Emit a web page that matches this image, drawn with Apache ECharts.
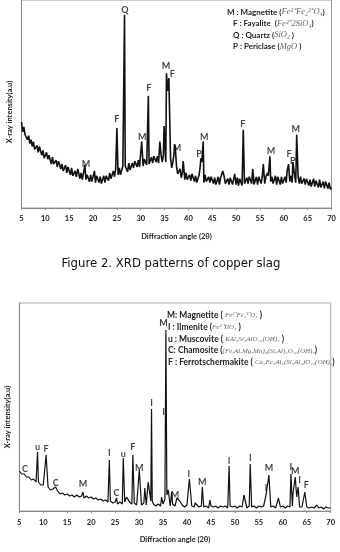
<!DOCTYPE html>
<html>
<head>
<meta charset="utf-8">
<script src="https://cdn.jsdelivr.net/npm/echarts@6/dist/echarts.min.js"></script>
<style>
html, body { margin: 0; padding: 0; background: #fff; }
#xrd { width: 340px; height: 552px; }
</style>
</head>
<body>
<div id="xrd"></div>
<script>
// copper slag trace, read every 0.25 deg from 5 to 70 (a.u.)
const slagStart = 5;
const slagStep = 0.25;
const slagBase = [
  88, 78, 83, 75, 76, 70, 74, 66, 70, 63, 68, 60, 58, 64, 57, 63, 61, 54, 59, 51,
  51, 57, 50, 54, 53, 45, 52, 45, 43, 49, 42, 48, 48, 40, 45, 38, 38, 44, 36, 42,
  41, 34, 41, 33, 32, 38, 32, 38, 38, 30, 36, 29, 29, 36, 29, 34, 34, 27, 34, 27,
  26, 33, 26, 33, 33, 26, 32, 25, 26, 33, 26, 33, 34, 28, 36, 30, 30, 38, 32, 40,
  41, 34, 41, 34, 36, 43, 36, 43, 44, 37, 46, 39, 39, 46, 41, 48, 49, 42, 49, 42,
  44, 51, 43, 50, 51, 44, 52, 45, 45, 52, 46, 53, 54, 47, 53, 46, 48, 55, 47, 54,
  54, 47, 52, 46, 45, 51, 41, 47, 46, 38, 43, 35, 34, 40, 31, 37, 36, 29, 36, 29,
  27, 34, 28, 35, 34, 27, 33, 26, 27, 34, 26, 33, 33, 26, 34, 27, 25, 32, 26, 32,
  32, 25, 31, 24, 25, 32, 24, 31, 31, 24, 32, 25, 23, 30, 24, 31, 31, 24, 30, 23,
  24, 31, 23, 30, 30, 23, 31, 25, 24, 31, 25, 32, 32, 25, 31, 24, 25, 32, 24, 32,
  32, 25, 33, 26, 25, 32, 26, 33, 34, 27, 32, 25, 26, 33, 24, 32, 31, 24, 32, 25,
  24, 32, 26, 33, 34, 27, 33, 26, 27, 34, 26, 33, 32, 25, 32, 25, 23, 30, 24, 30,
  30, 23, 29, 22, 23, 30, 22, 28, 28, 21, 29, 21, 20, 27, 20, 27, 27, 20, 26, 19,
  21
];
const slagPeaks = [
  [16.8, 40], [18.3, 44], [20.3, 38], [25.0, 82], [26.6, 198], [30.2, 68],
  [31.6, 115], [34.0, 68], [34.9, 84], [35.4, 138], [35.65, 120], [35.9, 133],
  [37.2, 65], [38.9, 48], [42.5, 44], [42.6, 51], [42.8, 47], [43.1, 68],
  [47.2, 38], [49.7, 35], [51.5, 80], [53.5, 40], [55.7, 45], [56.6, 36],
  [57.1, 53], [60.7, 38], [61.0, 45], [61.9, 47], [62.7, 75]
];
const slagLabels = [
  [18.5, 45, 'M'], [25.0, 91, 'F'], [26.7, 203, 'Q'], [30.3, 73, 'M'],
  [31.7, 123, 'F'], [35.3, 145, 'M'], [36.6, 137, 'F'], [37.6, 61, 'M'],
  [42.2, 55, 'P'], [43.3, 73, 'M'], [51.4, 86, 'F'], [57.3, 58, 'M'],
  [61.1, 55, 'F'], [61.9, 48, 'P'], [62.5, 81, 'M']
];

// second sample, read every 0.5 deg from 5 to 70 (a.u.)
const oreStart = 5;
const oreStep = 0.5;
const oreBase = [
  40, 37, 37, 34, 34, 31, 32, 29, 29, 26, 26, 23, 24, 21, 22, 19, 20, 17, 18, 16,
  17, 15, 16, 14, 16, 14, 15, 13, 15, 13, 14, 12, 13, 11, 12, 10, 11, 9, 10, 8,
  9, 7, 9, 7, 9, 7, 9, 7, 8, 6, 8, 6, 8, 6, 8, 6, 7, 5, 7, 5,
  7, 5, 7, 5, 7, 5, 6, 5, 6, 4, 6, 4, 5, 4, 6, 4, 5, 4, 5, 3,
  5, 4, 5, 3, 5, 4, 5, 3, 5, 4, 5, 3, 5, 4, 5, 3, 5, 4, 5, 3,
  5, 4, 5, 3, 5, 4, 5, 3, 5, 4, 5, 3, 5, 4, 5, 3, 5, 4, 4, 3,
  4, 3, 4, 3, 4, 3, 4, 2, 4, 3, 3
];
const orePeaks = [
  [6.3, 39], [8.8, 59], [10.6, 56], [12.6, 24], [18.3, 19], [21.2, 14],
  [23.8, 51], [25.3, 13], [26.7, 53], [27.4, 14], [28.7, 56], [30.05, 41],
  [31.2, 23], [31.9, 29], [32.45, 10], [32.6, 102], [32.75, 10], [34.7, 14],
  [35.4, 12], [35.6, 181], [35.8, 16], [36.1, 21], [36.8, 19], [37.9, 13],
  [38.5, 10], [40.5, 32], [41.7, 8], [43.2, 24], [44.8, 11], [48.8, 45],
  [51.9, 16], [53.2, 47], [56.5, 16], [57.1, 36], [59.1, 13], [61.7, 37],
  [62.15, 18], [62.6, 34], [62.9, 14], [63.2, 24], [64.6, 19], [67.1, 6]
];
const oreLabels = [
  [6.2, 42, 'C'], [8.8, 64, 'u'], [10.6, 62, 'F'], [12.6, 28, 'C'],
  [18.3, 27, 'M'], [23.8, 58, 'I'], [25.3, 18, 'C'], [26.7, 57, 'u'],
  [28.7, 64, 'F'], [30.05, 43, 'M'], [32.6, 108, 'I'], [35.1, 99, 'I'],
  [35.1, 188, 'M'], [37.5, 16, 'M'], [40.4, 37, 'I'], [43.2, 29, 'M'],
  [48.8, 50, 'I'], [53.2, 53, 'I'], [56.5, 23, 'I'], [57.1, 43, 'M'],
  [61.7, 44, 'I'], [62.6, 40, 'M'], [63.5, 31, 'I'], [64.9, 26, 'F']
];

const slagLegend = [
  ['M : Magnetite (', 'Fe²⁺Fe₂³⁺O₄', ')'],
  ['F : Fayalite  (', 'Fe²⁺2SiO₄', ')'],
  ['Q : Quartz (', 'SiO₂', ' )'],
  ['P : Periclase (', 'MgO', ' )']
];
const oreLegend = [
  ['M: Magnetite ( ', 'Fe²⁺Fe₂³⁺O₄', ' )'],
  ['I : Ilmenite (', 'Fe²⁺TiO₃', ' )'],
  ['u : Muscovite ( ', 'KAl₂Si₃AlO₁₀(OH)₂', ' )'],
  ['C: Chamosite (', '(Fe,Al,Mg,Mn)₆(Si,Al)₄O₁₀(OH)₈', ')'],
  ['F : Ferrotschermakite ( ', 'Ca₂Fe₃Al₂(Si₆Al₂)O₂₂(OH)₂', ')']
];

function buildTrace(start, step, base, peaks) {
  let pts = base.map((v, i) => [start + i * step, v]);
  // drop background samples sitting right under a peak
  pts = pts.filter(p => !peaks.some(k => Math.abs(k[0] - p[0]) < 0.13));
  return pts.concat(peaks).sort((a, b) => a[0] - b[0]);
}

function labelData(list) {
  return list.map(l => ({ name: l[2], value: [l[0], l[1]] }));
}

function legendText(rows, x0, y0, gap, bSize, fSize) {
  return rows.map((r, i) => ({
    type: 'text',
    x: i == 0 ? x0[0] : x0[1],
    y: y0 + i * gap,
    style: {
      text: '{b|' + r[0] + '}{f|' + r[1] + '}{b|' + r[2] + '}',
      verticalAlign: 'middle',
      rich: {
        b: { fontFamily: 'Lato', fontWeight: 'bold', fontSize: bSize, fill: '#222' },
        f: { fontFamily: '"Liberation Serif", serif', fontStyle: 'italic', fontSize: fSize, fill: '#666' }
      }
    }
  }));
}

const xAxisBase = {
  type: 'value',
  min: 5,
  max: 70,
  interval: 5,
  name: 'Diffraction angle (2θ)',
  nameLocation: 'middle',
  nameGap: 25,
  nameTextStyle: { fontFamily: 'Lato', fontWeight: 'bold', fontSize: 7.5, color: '#222' },
  axisLine: { lineStyle: { color: '#888' } },
  axisTick: { length: 2, lineStyle: { color: '#888' } },
  axisLabel: { margin: 7, fontFamily: 'Lato', fontWeight: 'bold', fontSize: 7.5, color: '#222' },
  splitLine: { show: false }
};
const yAxisBase = {
  type: 'value',
  min: 0,
  axisLine: { show: true, lineStyle: { color: '#888' } },
  axisTick: { show: false },
  axisLabel: { show: false },
  splitLine: { show: false }
};
const labelStyle = {
  show: true,
  position: 'inside',
  formatter: '{b}',
  fontFamily: 'Lato',
  fontWeight: 'bold',
  fontSize: 9,
  color: '#111'
};

let myChart = echarts.init(document.getElementById('xrd'));
myChart.setOption({
  animation: false,
  grid: [
    { left: 21.5, width: 310, top: -5, height: 213, show: true, borderColor: '#999', borderWidth: 1 },
    { left: 19.3, width: 311.4, top: 303, height: 208, show: true, borderColor: '#aaa', borderWidth: 1 }
  ],
  xAxis: [
    Object.assign({}, xAxisBase, { gridIndex: 0 }),
    Object.assign({}, xAxisBase, { gridIndex: 1, axisLabel: Object.assign({}, xAxisBase.axisLabel, { margin: 8 }) })
  ],
  yAxis: [
    Object.assign({}, yAxisBase, { gridIndex: 0, max: 213 }),
    Object.assign({}, yAxisBase, { gridIndex: 1, max: 208 })
  ],
  series: [
    {
      type: 'line',
      xAxisIndex: 0,
      yAxisIndex: 0,
      showSymbol: false,
      data: buildTrace(slagStart, slagStep, slagBase, slagPeaks),
      lineStyle: { color: '#111', width: 1.6 }
    },
    {
      type: 'line',
      xAxisIndex: 1,
      yAxisIndex: 1,
      showSymbol: false,
      data: buildTrace(oreStart, oreStep, oreBase, orePeaks),
      lineStyle: { color: '#111', width: 1.2 }
    },
    {
      type: 'scatter',
      xAxisIndex: 0,
      yAxisIndex: 0,
      symbolSize: 1,
      itemStyle: { color: 'rgba(0,0,0,0)' },
      label: labelStyle,
      data: labelData(slagLabels)
    },
    {
      type: 'scatter',
      xAxisIndex: 1,
      yAxisIndex: 1,
      symbolSize: 1,
      itemStyle: { color: 'rgba(0,0,0,0)' },
      label: labelStyle,
      data: labelData(oreLabels)
    }
  ],
  graphic: [
    {
      type: 'text', x: 10, y: 112, rotation: Math.PI / 2,
      style: { text: 'X-ray intensity(a.u)', align: 'center', verticalAlign: 'middle',
        fontFamily: 'Lato', fontWeight: 'bold', fontSize: 7.5, fill: '#222' }
    },
    {
      type: 'text', x: 8, y: 417, rotation: Math.PI / 2,
      style: { text: 'X-ray intensity(a.u)', align: 'center', verticalAlign: 'middle',
        fontFamily: 'Lato', fontWeight: 'bold', fontSize: 7.5, fill: '#222' }
    },
    {
      type: 'text', x: 171, y: 264,
      style: { text: 'Figure 2. XRD patterns of copper slag', align: 'center', verticalAlign: 'middle',
        fontFamily: '"Liberation Sans Narrow", "DejaVu Sans Condensed", "Noto Sans"', fontSize: 13, fill: '#111' }
    }
  ].concat(legendText(slagLegend, [227, 233], 12, 11.6, 8, 8.5))
   .concat(legendText(oreLegend, [167, 168], 315, 11.9, 8.5, 7))
});
</script>
</body>
</html>
